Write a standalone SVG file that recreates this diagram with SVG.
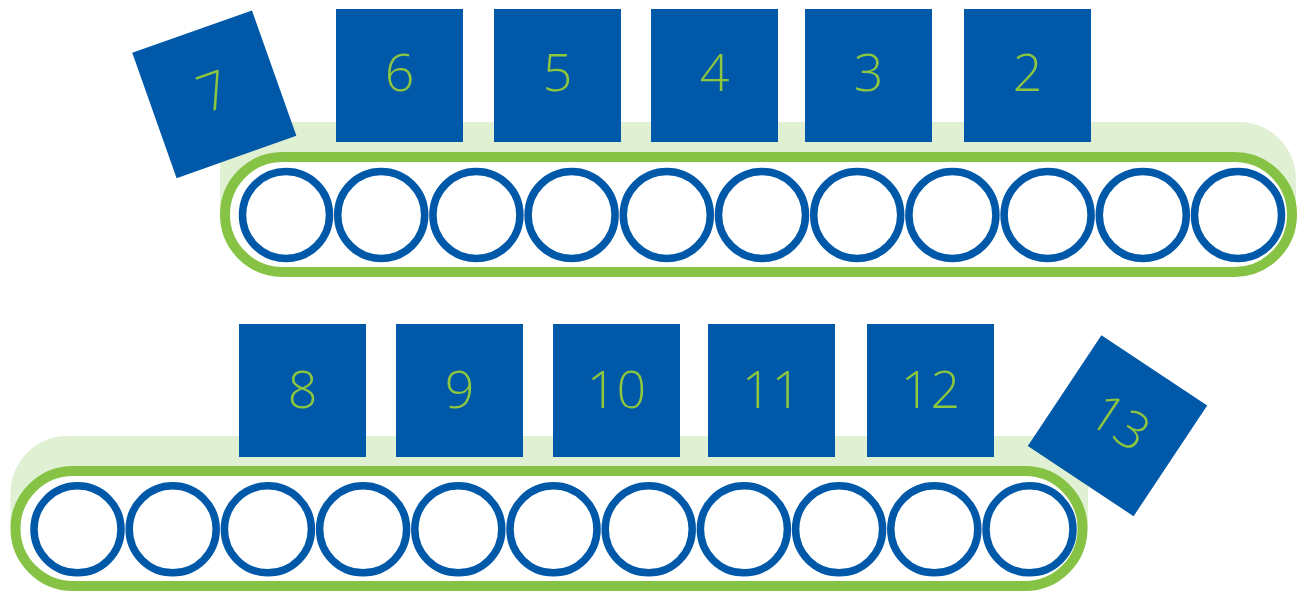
<svg xmlns="http://www.w3.org/2000/svg" width="1304" height="591" viewBox="0 0 1304 591">
<defs>
<style>
.shadow{fill:#DFF0D3}
.belt{fill:#FFFFFF;stroke:#86C345;stroke-width:10}
.roll{fill:#FFFFFF;stroke:#0058A8;stroke-width:7.5}
.box{fill:#0058A8}
.lbl{fill:#8DC63F;font-family:"Open Sans","Liberation Sans",sans-serif;font-weight:350;font-size:52px;text-anchor:middle}
</style>
<circle id="r" class="roll" r="43.5"/>
</defs>
<rect width="1304" height="591" fill="#FFFFFF"/>
<g id="belt-top">
<path class="shadow" d="M220,122 H1239 A57,57 0 0 1 1296,179 V215 H220 Z"/>
<rect class="belt" x="225" y="157" width="1067" height="115" rx="57.5" ry="57.5"/>
<use href="#r" x="286" y="215"/>
<use href="#r" x="381.2" y="215"/>
<use href="#r" x="476.4" y="215"/>
<use href="#r" x="571.6" y="215"/>
<use href="#r" x="666.8" y="215"/>
<use href="#r" x="762" y="215"/>
<use href="#r" x="857.2" y="215"/>
<use href="#r" x="952.4" y="215"/>
<use href="#r" x="1047.6" y="215"/>
<use href="#r" x="1142.8" y="215"/>
<use href="#r" x="1238" y="215"/>
</g>
<g id="belt-bottom">
<path class="shadow" d="M10.5,529 V493 A57,57 0 0 1 67.5,436 H1088 V529 Z"/>
<rect class="belt" x="15.5" y="471" width="1067" height="115" rx="57.5" ry="57.5"/>
<use href="#r" x="77.5" y="529.3"/>
<use href="#r" x="172.7" y="529.3"/>
<use href="#r" x="267.9" y="529.3"/>
<use href="#r" x="363.1" y="529.3"/>
<use href="#r" x="458.3" y="529.3"/>
<use href="#r" x="553.5" y="529.3"/>
<use href="#r" x="648.7" y="529.3"/>
<use href="#r" x="743.9" y="529.3"/>
<use href="#r" x="839.1" y="529.3"/>
<use href="#r" x="934.3" y="529.3"/>
<use href="#r" x="1029.5" y="529.3"/>
</g>
<g id="connectors"></g>
<g id="box-2"><rect class="box" x="964" y="9" width="127" height="133"/><text class="lbl" x="1027.5" y="91">2</text></g>
<g id="box-3"><rect class="box" x="805" y="9" width="127" height="133"/><text class="lbl" x="868.5" y="91">3</text></g>
<g id="box-4"><rect class="box" x="651" y="9" width="127" height="133"/><text class="lbl" x="714.5" y="91">4</text></g>
<g id="box-5"><rect class="box" x="494" y="9" width="127" height="133"/><text class="lbl" x="557.5" y="91">5</text></g>
<g id="box-6"><rect class="box" x="336" y="9" width="127" height="133"/><text class="lbl" x="399.5" y="91">6</text></g>
<g id="box-7" transform="translate(214.3,94.3) rotate(-19.5)"><rect class="box" x="-63.5" y="-66.5" width="127" height="133"/><text class="lbl" x="0" y="15">7</text></g>
<g id="box-8"><rect class="box" x="239" y="324" width="127" height="133"/><text class="lbl" x="302.5" y="408">8</text></g>
<g id="box-9"><rect class="box" x="396" y="324" width="127" height="133"/><text class="lbl" x="459.5" y="408">9</text></g>
<g id="box-10"><rect class="box" x="553" y="324" width="127" height="133"/><text class="lbl" x="616.5" y="408">10</text></g>
<g id="box-11"><rect class="box" x="708" y="324" width="127" height="133"/><text class="lbl" x="771.5" y="408">11</text></g>
<g id="box-12"><rect class="box" x="867" y="324" width="127" height="133"/><text class="lbl" x="930.5" y="408">12</text></g>
<g id="box-13" transform="translate(1117.5,425.7) rotate(33.6)"><rect class="box" x="-63.5" y="-66.5" width="127" height="133"/><text class="lbl" x="0" y="14">13</text></g>
</svg>
